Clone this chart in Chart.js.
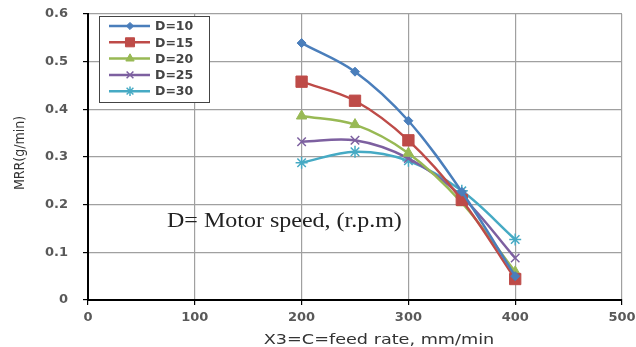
<!DOCTYPE html>
<html>
<head>
<meta charset="utf-8">
<script src="https://cdn.jsdelivr.net/npm/chart.js@4"></script>
<style>
  html, body { margin: 0; padding: 0; background: #fff; }
  #wrap { width: 636px; height: 347px; }
</style>
</head>
<body>
<div id="wrap"><canvas id="myChart" width="636" height="347"></canvas></div>
<script>
// feed rate (mm/min)
const feedRates = [200, 250, 300, 350, 400];
const labels = ['D=10', 'D=15', 'D=20', 'D=25', 'D=30'];
const mrr10 = [0.539, 0.479, 0.376, 0.227, 0.05];
const mrr15 = [0.458, 0.418, 0.335, 0.210, 0.044];
const mrr20 = [0.386, 0.368, 0.308, 0.204, 0.059];
const mrr25 = [0.332, 0.335, 0.297, 0.217, 0.088];
const mrr30 = [0.288, 0.311, 0.292, 0.229, 0.127];
const xTitle = 'X3=C=feed rate, mm/min';
const yTitle = 'MRR(g/min)';
const note = 'D= Motor speed, (r.p.m)';

const colors = ['#4a7ebb', '#be4b48', '#98b954', '#7d60a0', '#46aac4'];
const styles = ['rectRot', 'rect', 'triangle', 'crossRot', 'star'];
const radii = [4.5, 8, 6, 6, 6];

function pts(arr) {
  return arr.map((v, i) => ({ x: feedRates[i], y: v }));
}

const series = [mrr10, mrr15, mrr20, mrr25, mrr30];
const datasets = series.map((s, i) => ({
  label: labels[i],
  data: pts(s),
  borderColor: colors[i],
  backgroundColor: colors[i],
  borderWidth: 2.5,
  pointStyle: styles[i],
  pointRadius: radii[i],
  pointBorderWidth: (styles[i] == 'crossRot' || styles[i] == 'star') ? 1.5 : 1,
  pointBorderColor: colors[i],
  pointBackgroundColor: colors[i],
  tension: 0.35,
  fill: false
}));

// text drawn a bit wider than the font, like the stretched original
function wideText(ctx, text, x, y, sx, rot) {
  ctx.save();
  ctx.translate(x, y);
  if (rot) ctx.rotate(rot);
  ctx.scale(sx, 1);
  ctx.textAlign = 'center';
  ctx.textBaseline = 'middle';
  ctx.fillText(text, 0, 0);
  ctx.restore();
}

// legend box drawn inside the plot, top left
const boxLegend = {
  id: 'boxLegend',
  afterDraw(chart) {
    const ctx = chart.ctx;
    const a = chart.chartArea;
    const x0 = a.left + 11, y0 = a.top + 2, w = 110, h = 86;
    ctx.save();
    ctx.fillStyle = '#fff';
    ctx.fillRect(x0, y0, w, h);
    ctx.strokeStyle = '#444';
    ctx.lineWidth = 1;
    ctx.strokeRect(x0 + 0.5, y0 + 0.5, w, h);
    chart.data.datasets.forEach((ds, i) => {
      const y = y0 + 10 + i * 16.3;
      ctx.strokeStyle = ds.borderColor;
      ctx.lineWidth = 2.5;
      ctx.beginPath();
      ctx.moveTo(x0 + 10, y);
      ctx.lineTo(x0 + 51, y);
      ctx.stroke();
      ctx.fillStyle = ds.borderColor;
      ctx.lineWidth = ds.pointBorderWidth;
      Chart.helpers.drawPoint(ctx, {
        pointStyle: ds.pointStyle,
        radius: ds.pointRadius * 0.8,
        rotation: 0,
        borderWidth: ds.pointBorderWidth
      }, x0 + 31, y);
      ctx.fillStyle = '#444';
      ctx.font = 'bold 12.5px "DejaVu Sans", sans-serif';
      ctx.textBaseline = 'middle';
      ctx.fillText(ds.label, x0 + 56, y + 1);
    });
    ctx.restore();
  }
};

// axis titles and the note
const texts = {
  id: 'texts',
  afterDraw(chart) {
    const ctx = chart.ctx;
    const a = chart.chartArea;
    ctx.save();
    ctx.fillStyle = '#333';
    ctx.font = '14px "DejaVu Sans", sans-serif';
    wideText(ctx, xTitle, (a.left + a.right) / 2 + 24, a.bottom + 40, 1.26, 0);
    ctx.font = '14px "DejaVu Sans Condensed", "DejaVu Sans", sans-serif';
    wideText(ctx, yTitle, a.left - 68, (a.top + a.bottom) / 2 - 4, 1, -Math.PI / 2);
    ctx.restore();
  },
  afterDatasetsDraw(chart) {
    const ctx = chart.ctx;
    const xs = chart.scales.x, ys = chart.scales.y;
    ctx.save();
    ctx.fillStyle = '#222';
    ctx.font = '20px "Liberation Serif", "Times New Roman", serif';
    ctx.translate(xs.getPixelForValue(74), ys.getPixelForValue(0.165));
    ctx.scale(1.2, 1);
    ctx.textBaseline = 'middle';
    ctx.fillText(note, 0, 0);
    ctx.restore();
  }
};

const tickFont = { family: '"DejaVu Sans", sans-serif', size: 13, weight: 'bold' };

new Chart(document.getElementById('myChart').getContext('2d'), {
  type: 'line',
  data: { datasets: datasets },
  options: {
    responsive: false,
    animation: false,
    layout: { padding: { top: 14, right: 14, left: 0, bottom: 0 } },
    plugins: {
      legend: { display: false },
      tooltip: { enabled: false }
    },
    scales: {
      x: {
        type: 'linear',
        min: 0, max: 500,
        ticks: { stepSize: 100, color: '#595959', font: tickFont, padding: 5 },
        grid: { color: '#a0a0a0', lineWidth: 1.2, tickLength: 5, tickColor: '#000' },
        border: { color: '#000', width: 2 },
        afterFit(scale) {
          scale.height = 47;
          scale.paddingRight = 0;
          scale.paddingLeft = 0;
        }
      },
      y: {
        min: 0, max: 0.6,
        ticks: { stepSize: 0.1, color: '#595959', font: tickFont, padding: 15 },
        grid: { color: '#a0a0a0', lineWidth: 1.2, tickLength: 5, tickColor: '#000' },
        border: { color: '#000', width: 2 },
        afterFit(scale) {
          scale.width = 88;
          scale.paddingTop = 0;
          scale.paddingBottom = 0;
        }
      }
    }
  },
  plugins: [texts, boxLegend]
});
</script>
</body>
</html>
